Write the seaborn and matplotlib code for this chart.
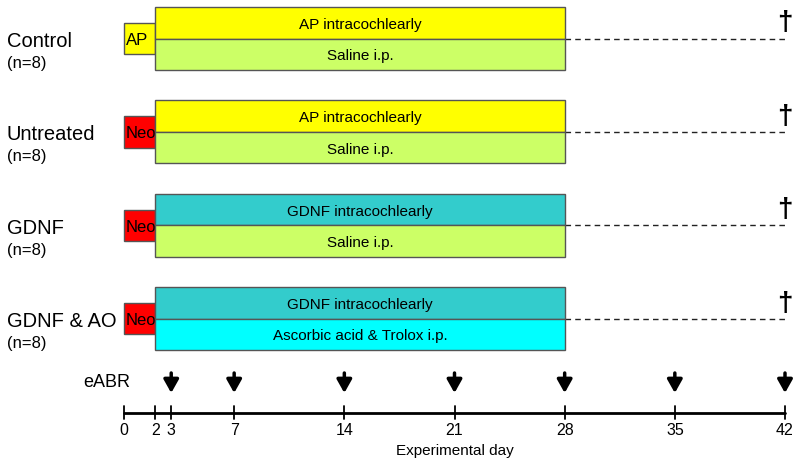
import numpy as np
import seaborn as sns
import matplotlib.pyplot as plt

groups = ["Control", "Untreated", "GDNF", "GDNF & AO"]
group_n = ["(n=8)", "(n=8)", "(n=8)", "(n=8)"]
pre_labels = ["AP", "Neo", "Neo", "Neo"]
pre_colors = ["#FFFF00", "#FF0000", "#FF0000", "#FF0000"]
top_labels = ["AP intracochlearly", "AP intracochlearly",
              "GDNF intracochlearly", "GDNF intracochlearly"]
top_colors = ["#FFFF00", "#FFFF00", "#33CCCC", "#33CCCC"]
bottom_labels = ["Saline i.p.", "Saline i.p.", "Saline i.p.",
                 "Ascorbic acid & Trolox i.p."]
bottom_colors = ["#CCFF66", "#CCFF66", "#CCFF66", "#00FFFF"]

pre_start, pre_end = 0, 2
treat_end = 28
end_day = 42
eabr_days = [3, 7, 14, 21, 28, 35, 42]
tick_days = [0, 2, 3, 7, 14, 21, 28, 35, 42]

sns.set_style("white")
plt.rcParams["font.family"] = ["Liberation Sans", "DejaVu Sans"]
plt.rcParams["text.color"] = "black"

fig = plt.figure(figsize=(8, 4.64), dpi=100)
ax = fig.add_axes([0, 0, 1, 1])
px_per_day = (785 - 124) / 42
ax.set_xlim(-124 / px_per_day, (800 - 124) / px_per_day)
ax.set_ylim(464, 0)
ax.axis("off")

h = 31.5
edge = "#555555"
for i, g in enumerate(groups):
    mid = 39.5 + i * 93.4
    # pre-treatment box
    ax.barh(mid, pre_end - pre_start, left=pre_start, height=h,
            color=pre_colors[i], edgecolor=edge, linewidth=1, zorder=2)
    ax.text(pre_start + 0.1, mid + 1, pre_labels[i], fontsize=12,
            ha="left", va="center", zorder=2.5)
    # main treatment boxes
    ax.barh(mid - h / 2, treat_end - pre_end, left=pre_end, height=h,
            color=top_colors[i], edgecolor=edge, linewidth=1, zorder=3)
    ax.barh(mid + h / 2, treat_end - pre_end, left=pre_end, height=h,
            color=bottom_colors[i], edgecolor=edge, linewidth=1, zorder=3)
    xc = (pre_end + treat_end) / 2
    ax.text(xc, mid - h / 2 + 1, top_labels[i], fontsize=11,
            ha="center", va="center", zorder=4)
    ax.text(xc, mid + h / 2 + 1, bottom_labels[i], fontsize=11,
            ha="center", va="center", zorder=4)
    # follow-up dashed line and dagger
    sns.lineplot(x=[treat_end, end_day], y=[mid, mid], ax=ax, color="#222222",
                 linestyle=(0, (4, 3)), linewidth=1, zorder=1)
    ax.text(end_day, mid - 3, "\u2020", fontsize=20, fontweight="bold",
            ha="center", va="bottom")
    # group labels
    ax.text(-7.45, mid + 2, g, fontsize=14.5, ha="left", va="center")
    ax.text(-7.45, mid + 24, group_n[i], fontsize=12, ha="left", va="center")

# eABR arrows
ax.text(0.4, 383, "eABR", fontsize=13, ha="right", va="center")
for d in eabr_days:
    ax.annotate("", xy=(d, 394), xytext=(d, 374),
                arrowprops=dict(arrowstyle="-|>,head_width=0.45,head_length=0.8",
                                color="black", lw=2.5, shrinkA=0, shrinkB=0))

# timeline axis
sns.lineplot(x=[0, end_day], y=[413.5, 413.5], ax=ax, color="black",
             linewidth=2)
for d in tick_days:
    ax.plot([d, d], [407, 420], color="black", lw=1.3)
    ax.text(d, 431, str(d), fontsize=11.5, ha="center", va="center")
ax.text(end_day / 2, 451, "Experimental day", fontsize=11,
        ha="center", va="center")

fig.savefig("out.png", dpi=100)
